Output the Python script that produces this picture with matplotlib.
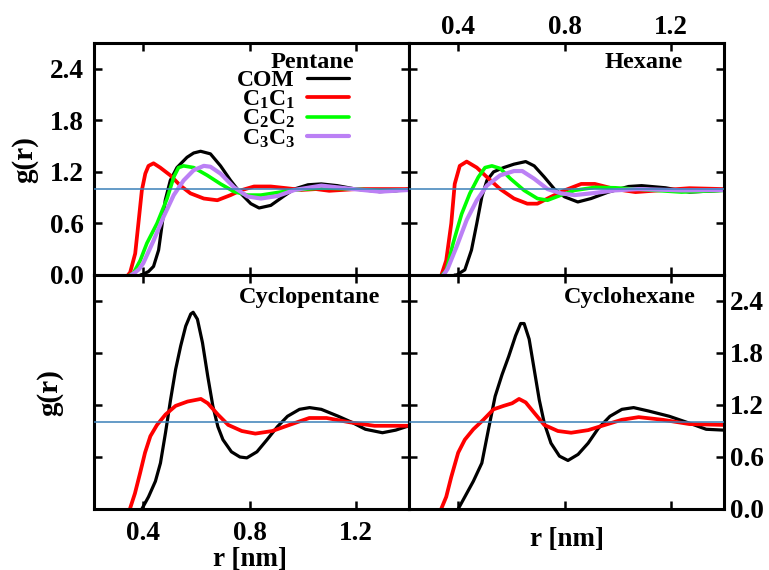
import numpy as np
import matplotlib
matplotlib.use("Agg")
import matplotlib.pyplot as plt

plt.rcParams['font.family'] = ['Liberation Serif', 'DejaVu Serif']
plt.rcParams['font.weight'] = 'bold'
plt.rcParams['mathtext.fontset'] = 'custom'
plt.rcParams['mathtext.rm'] = 'Liberation Serif:bold'
plt.rcParams['mathtext.it'] = 'Liberation Serif:bold'
plt.rcParams['mathtext.bf'] = 'Liberation Serif:bold'
plt.rcParams['mathtext.default'] = 'rm'

# ---------------- data ----------------
series_labels = ['COM', 'C$_1$C$_1$', 'C$_2$C$_2$', 'C$_3$C$_3$']
series_colors = ['#000000', '#ff0000', '#00ff00', '#bb80f5']
panel_names = ['Pentane', 'Hexane', 'Cyclopentane', 'Cyclohexane']

# Pentane
pen_com_r = [0.39, 0.40, 0.42, 0.439, 0.458, 0.47, 0.483, 0.502, 0.527, 0.565, 0.59, 0.616, 0.653, 0.691, 0.729, 0.767, 0.805, 0.836, 0.88, 0.93, 0.968, 1.02, 1.07, 1.13, 1.2, 1.29, 1.35, 1.40]
pen_com_g = [0.0, 0.01, 0.04, 0.10, 0.29, 0.56, 0.87, 1.10, 1.25, 1.37, 1.42, 1.44, 1.41, 1.27, 1.10, 0.95, 0.83, 0.78, 0.81, 0.92, 1.0, 1.05, 1.06, 1.04, 1.0, 0.97, 0.98, 1.0]
pen_c1_r = [0.343, 0.351, 0.37, 0.382, 0.395, 0.408, 0.42, 0.439, 0.464, 0.502, 0.54, 0.578, 0.628, 0.679, 0.729, 0.767, 0.817, 0.88, 0.94, 0.995, 1.05, 1.1, 1.2, 1.3, 1.40]
pen_c1_g = [0.0, 0.03, 0.25, 0.60, 0.985, 1.18, 1.27, 1.30, 1.25, 1.16, 1.04, 0.95, 0.89, 0.87, 0.93, 0.985, 1.03, 1.03, 1.01, 0.99, 1.0, 0.98, 1.0, 1.0, 1.0]
pen_c2_r = [0.35, 0.363, 0.389, 0.414, 0.452, 0.49, 0.515, 0.533, 0.552, 0.59, 0.641, 0.691, 0.742, 0.792, 0.843, 0.906, 0.97, 1.06, 1.1, 1.2, 1.3, 1.40]
pen_c2_g = [0.0, 0.02, 0.17, 0.37, 0.60, 0.89, 1.14, 1.25, 1.27, 1.25, 1.16, 1.06, 0.97, 0.93, 0.93, 0.96, 0.99, 1.01, 1.01, 1.0, 0.98, 0.99]
pen_c3_r = [0.355, 0.37, 0.385, 0.40, 0.439, 0.477, 0.515, 0.552, 0.59, 0.628, 0.653, 0.691, 0.742, 0.792, 0.843, 0.906, 0.97, 1.07, 1.19, 1.29, 1.40]
pen_c3_g = [0.0, 0.03, 0.07, 0.135, 0.40, 0.68, 0.93, 1.10, 1.22, 1.27, 1.26, 1.18, 1.02, 0.915, 0.89, 0.92, 0.99, 1.04, 1.0, 0.97, 0.99]

# Hexane
hex_com_r = [0.387, 0.394, 0.425, 0.45, 0.47, 0.489, 0.508, 0.533, 0.571, 0.61, 0.654, 0.686, 0.724, 0.762, 0.80, 0.85, 0.90, 0.965, 1.041, 1.09, 1.18, 1.27, 1.40]
hex_com_g = [0.0, 0.0, 0.06, 0.29, 0.60, 0.91, 1.10, 1.20, 1.25, 1.29, 1.32, 1.27, 1.14, 1.0, 0.91, 0.85, 0.89, 0.965, 1.03, 1.04, 1.015, 0.965, 0.985]
hex_c1_r = [0.337, 0.355, 0.374, 0.387, 0.406, 0.432, 0.47, 0.508, 0.558, 0.61, 0.66, 0.698, 0.749, 0.80, 0.863, 0.914, 0.99, 1.067, 1.155, 1.27, 1.40]
hex_c1_g = [0.0, 0.17, 0.60, 1.06, 1.27, 1.32, 1.25, 1.14, 1.0, 0.89, 0.83, 0.83, 0.91, 0.985, 1.06, 1.06, 1.0, 0.965, 0.985, 1.01, 1.0]
hex_c2_r = [0.34, 0.355, 0.381, 0.413, 0.444, 0.476, 0.501, 0.527, 0.558, 0.597, 0.648, 0.698, 0.736, 0.787, 0.838, 0.914, 0.99, 1.117, 1.24, 1.40]
hex_c2_g = [0.0, 0.05, 0.37, 0.71, 0.95, 1.14, 1.25, 1.27, 1.24, 1.12, 0.985, 0.89, 0.87, 0.93, 0.985, 1.02, 1.015, 0.99, 0.965, 0.985]
hex_c3_r = [0.345, 0.36, 0.394, 0.432, 0.47, 0.508, 0.558, 0.61, 0.641, 0.686, 0.736, 0.787, 0.838, 0.90, 0.99, 1.08, 1.24, 1.40]
hex_c3_g = [0.0, 0.07, 0.33, 0.64, 0.87, 1.04, 1.16, 1.21, 1.21, 1.12, 1.0, 0.95, 0.93, 0.95, 0.985, 1.0, 0.985, 0.99]

# Cyclopentane
cp_com_r = [0.395, 0.42, 0.446, 0.465, 0.484, 0.503, 0.522, 0.541, 0.56, 0.579, 0.588, 0.604, 0.623, 0.643, 0.662, 0.681, 0.70, 0.732, 0.764, 0.79, 0.828, 0.866, 0.905, 0.943, 0.988, 1.026, 1.07, 1.134, 1.185, 1.236, 1.30, 1.35, 1.40]
cp_com_g = [0.0, 0.14, 0.32, 0.53, 0.88, 1.26, 1.61, 1.88, 2.11, 2.25, 2.27, 2.19, 1.92, 1.53, 1.19, 0.95, 0.80, 0.66, 0.60, 0.59, 0.66, 0.80, 0.95, 1.07, 1.15, 1.17, 1.15, 1.07, 1.0, 0.92, 0.88, 0.91, 0.96]
cp_c1_r = [0.35, 0.369, 0.388, 0.407, 0.427, 0.452, 0.484, 0.522, 0.567, 0.617, 0.643, 0.681, 0.72, 0.771, 0.822, 0.886, 0.95, 1.025, 1.09, 1.178, 1.27, 1.40]
cp_c1_g = [0.0, 0.18, 0.41, 0.65, 0.84, 0.97, 1.09, 1.19, 1.24, 1.27, 1.22, 1.09, 0.97, 0.90, 0.87, 0.90, 0.97, 1.05, 1.05, 1.0, 0.96, 0.96]

# Cyclohexane
ch_com_r = [0.40, 0.425, 0.457, 0.489, 0.514, 0.539, 0.565, 0.59, 0.616, 0.635, 0.648, 0.667, 0.686, 0.705, 0.724, 0.749, 0.781, 0.813, 0.851, 0.889, 0.927, 0.971, 1.016, 1.06, 1.117, 1.194, 1.27, 1.333, 1.40]
ch_com_g = [0.0, 0.14, 0.32, 0.53, 0.92, 1.30, 1.55, 1.76, 2.0, 2.14, 2.14, 1.96, 1.61, 1.26, 0.99, 0.76, 0.61, 0.56, 0.63, 0.76, 0.93, 1.07, 1.15, 1.17, 1.13, 1.07, 0.99, 0.92, 0.91]
ch_c1_r = [0.336, 0.355, 0.374, 0.40, 0.425, 0.457, 0.495, 0.533, 0.571, 0.603, 0.629, 0.654, 0.686, 0.724, 0.775, 0.825, 0.889, 0.952, 1.016, 1.079, 1.168, 1.27, 1.40]
ch_c1_g = [0.0, 0.14, 0.37, 0.65, 0.80, 0.92, 1.03, 1.15, 1.19, 1.22, 1.27, 1.23, 1.11, 0.97, 0.90, 0.88, 0.91, 0.97, 1.03, 1.06, 1.03, 0.98, 0.97]

panels = [
    [(pen_com_r, pen_com_g), (pen_c1_r, pen_c1_g), (pen_c2_r, pen_c2_g), (pen_c3_r, pen_c3_g)],
    [(hex_com_r, hex_com_g), (hex_c1_r, hex_c1_g), (hex_c2_r, hex_c2_g), (hex_c3_r, hex_c3_g)],
    [(cp_com_r, cp_com_g), (cp_c1_r, cp_c1_g)],
    [(ch_com_r, ch_com_g), (ch_c1_r, ch_c1_g)],
]

x_ticks = [0.4, 0.8, 1.2]
y_ticks = [0.0, 0.6, 1.2, 1.8, 2.4]
x_lim = (0.215, 1.40)
y_lim = (0.0, 2.7)
ref_level = 1.0

# ---------------- figure ----------------
W, H = 769, 570
fig = plt.figure(figsize=(W / 100, H / 100), dpi=100)
def rect(x0, y0, x1, y1):
    return [x0 / W, 1 - y1 / H, (x1 - x0) / W, (y1 - y0) / H]

axes = [
    fig.add_axes(rect(94, 43, 409, 275)),
    fig.add_axes(rect(409, 43, 724, 275)),
    fig.add_axes(rect(94, 275, 409, 509)),
    fig.add_axes(rect(409, 275, 724, 509)),
]

lws = [2.3, 2.7, 2.6, 3.0]
name_pos = [(0.825, 0.915), (0.87, 0.915), (0.91, 0.905), (0.91, 0.905)]

for i, ax in enumerate(axes):
    for j, (r, g) in enumerate(panels[i]):
        ax.plot(r, g, color=series_colors[j], lw=lws[j], label=series_labels[j],
                solid_joinstyle='round', solid_capstyle='round')
    ax.axhline(ref_level, color='#3b80b8', lw=1.1, zorder=5)
    ax.set_xlim(*x_lim)
    ax.set_ylim(*y_lim)
    ax.set_xticks(x_ticks)
    ax.set_yticks(y_ticks)
    ax.set_xticklabels(['%.1f' % v for v in x_ticks])
    ax.set_yticklabels(['%.1f' % v for v in y_ticks])
    ax.tick_params(direction='in', length=6, width=1.8, top=True, bottom=True,
                   left=True, right=True, labelsize=19.5, pad=5,
                   labelbottom=False, labeltop=False, labelleft=False, labelright=False)
    for s in ax.spines.values():
        s.set_linewidth(2.2)
    ax.text(name_pos[i][0], name_pos[i][1], panel_names[i], transform=ax.transAxes,
            ha='right', va='center', fontsize=17.5, fontweight='bold')

axes[0].tick_params(labelleft=True, pad=7.5)
axes[1].tick_params(labeltop=True, pad=2.5)
axes[2].tick_params(labelbottom=True, pad=9)
axes[3].tick_params(labelright=True, pad=4.5)

def ftext(x, y, s, **kw):
    fig.text(x / W, 1 - y / H, s, ha='center', va='center', fontweight='bold', **kw)

ftext(25, 160, 'g(r)', fontsize=21, rotation=90)
ftext(50, 393, 'g(r)', fontsize=21, rotation=90)
ftext(250, 559, 'r [nm]', fontsize=19.5)
ftext(567, 539, 'r [nm]', fontsize=19.5)

axes[0].legend(loc='upper right', bbox_to_anchor=(0.81, 0.885), frameon=False,
               markerfirst=False, fontsize=17, handlelength=1.8, handletextpad=0.5,
               labelspacing=-0.12, borderpad=0, borderaxespad=0)

fig.savefig('out.png', dpi=100)
